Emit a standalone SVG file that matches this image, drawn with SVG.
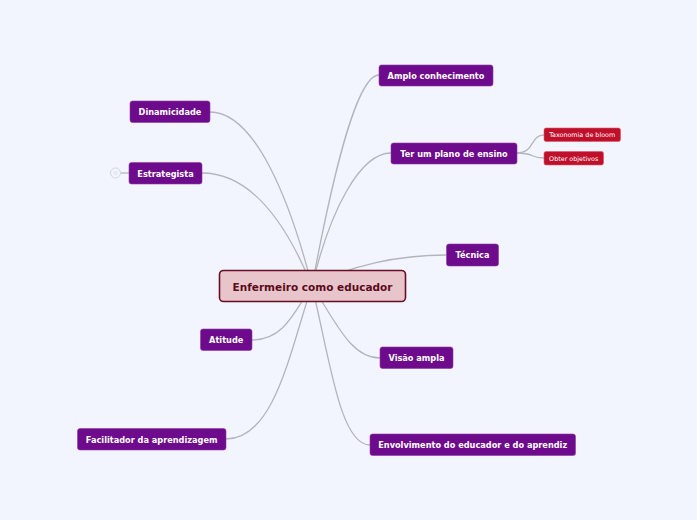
<svg xmlns="http://www.w3.org/2000/svg" width="697" height="520" viewBox="0 0 697 520">
<style>
.bg{fill:#f3f5fe}
.c{fill:none;stroke:#b4b4bc;stroke-width:1.3}
.n rect{fill:#6e0a8c;stroke:#8a3aa6;stroke-width:0.6}
.n text{fill:#fff;font-family:"DejaVu Sans",Verdana,sans-serif;font-weight:bold;font-size:8.2px;text-anchor:middle}
.s rect{fill:#c00f2b;stroke:#d65a6a;stroke-width:0.6}
.s text{fill:#fff;font-family:"DejaVu Sans",Verdana,sans-serif;font-size:6.4px;text-anchor:middle}
</style>
<rect class="bg" x="0" y="0" width="697" height="520"/>
<g id="connectors">
<path class="c" d="M379,75 C355,75 330,190 312,286"/>
<path class="c" d="M391,153 C360,153 330,210 312,286"/>
<path class="c" d="M446,255 C400,255 350,265 312,286"/>
<path class="c" d="M380,358 C350,358 335,320 312,286"/>
<path class="c" d="M370,445 C340,445 330,360 312,286"/>
<path class="c" d="M210,112 C255,112 290,200 312,286"/>
<path class="c" d="M202,173 C250,173 285,220 312,286"/>
<path class="c" d="M252,340 C285,340 295,310 312,286"/>
<path class="c" d="M226,439 C275,439 290,350 312,286"/>
<path class="c" d="M517,153 C535,153 530,135 544,135"/>
<path class="c" d="M517,153 C535,153 530,158 544,158"/>
<path class="c" d="M121,173 L129,173"/>
</g>
<g id="central">
<rect x="219.5" y="270.5" width="186" height="31" rx="4" fill="#e8c5cb" stroke="#6a0f22" stroke-width="1.6"/>
<text x="312.5" y="290.5" fill="#5a0b1c" font-family="DejaVu Sans,Verdana,sans-serif" font-weight="bold" font-size="10.5" text-anchor="middle">Enfermeiro como educador</text>
</g>
<g id="amplo" class="n"><rect x="379" y="65" width="114" height="21" rx="2.5"/><text x="436" y="78.5">Amplo conhecimento</text></g>
<g id="plano" class="n"><rect x="391" y="143" width="126" height="21" rx="2.5"/><text x="454" y="156.5">Ter um plano de ensino</text></g>
<g id="taxonomia" class="s"><rect x="544" y="128" width="76.5" height="13.5" rx="2"/><text x="582.2" y="137.3">Taxonomia de bloom</text></g>
<g id="obter" class="s"><rect x="544" y="151.5" width="59.5" height="13.5" rx="2"/><text x="573.7" y="160.8">Obter objetivos</text></g>
<g id="tecnica" class="n"><rect x="446.5" y="244" width="52" height="22" rx="2.5"/><text x="472.5" y="258">Técnica</text></g>
<g id="visao" class="n"><rect x="380" y="347" width="73" height="21.5" rx="2.5"/><text x="416.5" y="361">Visão ampla</text></g>
<g id="envolvimento" class="n"><rect x="370" y="434" width="205.5" height="21.5" rx="2.5"/><text x="472.7" y="448">Envolvimento do educador e do aprendiz</text></g>
<g id="dinamicidade" class="n"><rect x="130" y="101" width="80" height="21.5" rx="2.5"/><text x="170" y="115">Dinamicidade</text></g>
<g id="estrategista" class="n"><rect x="129" y="162.5" width="73" height="21.5" rx="2.5"/><text x="165.5" y="176.5">Estrategista</text></g>
<g id="collapse"><circle cx="115.5" cy="173" r="5" fill="#f3f5fe" stroke="#c8ccd8" stroke-width="0.8"/><path d="M113.5,172 h4 M113.5,174 h4" stroke="#c8ccd8" stroke-width="0.6"/></g>
<g id="atitude" class="n"><rect x="200.5" y="329" width="51.5" height="21.5" rx="2.5"/><text x="226.2" y="343">Atitude</text></g>
<g id="facilitador" class="n"><rect x="77.5" y="428.5" width="148.5" height="21.5" rx="2.5"/><text x="151.7" y="442.5">Facilitador da aprendizagem</text></g>
</svg>
